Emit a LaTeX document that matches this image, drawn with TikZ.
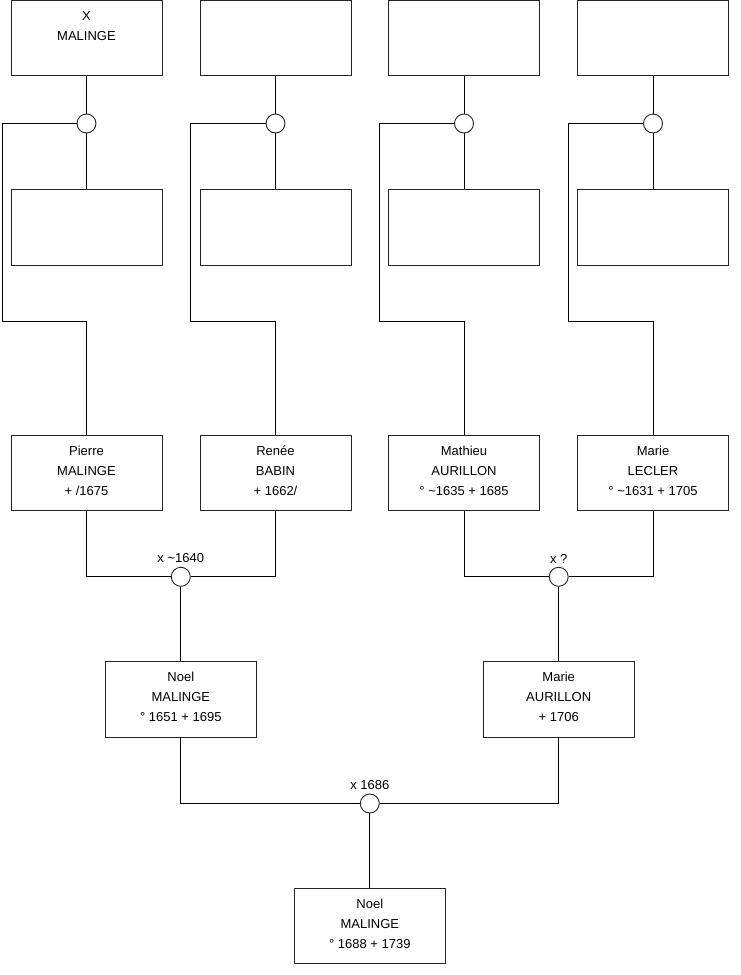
\documentclass[tikz,border=0pt]{standalone}
\usepackage{fontspec}
\setmainfont{Liberation Sans}
\begin{document}
\begin{tikzpicture}[x=1pt,y=-1pt,
  pbox/.style={draw=black!85, line width=0.9pt, minimum width=151pt, minimum height=75.5pt, inner sep=0pt, align=center, font=\fontsize{13}{20}\selectfont, text depth=4pt, execute at begin node={\rule{0pt}{13pt}}, fill=white},
  union/.style={draw=black!85, circle, line width=0.9pt, minimum size=19pt, inner sep=0pt, fill=white},
  lab/.style={font=\fontsize{13}{15}\selectfont, inner sep=0pt},
  link/.style={line width=0.9pt, black}]
\useasboundingbox (0,0) rectangle (740,975);
% top row
\node[pbox] (t1) at (86.5,38) {X\\MALINGE\\\strut};
\node[pbox] (t2) at (275.5,38) {};
\node[pbox] (t3) at (464,38) {};
\node[pbox] (t4) at (653,38) {};
% unions top
\node[union] (u1) at (86.5,123.5) {};
\node[union] (u2) at (275.5,123.5) {};
\node[union] (u3) at (464,123.5) {};
\node[union] (u4) at (653,123.5) {};
% second row
\node[pbox] (s1) at (86.5,227.5) {};
\node[pbox] (s2) at (275.5,227.5) {};
\node[pbox] (s3) at (464,227.5) {};
\node[pbox] (s4) at (653,227.5) {};
% third row
\node[pbox] (p1) at (86.5,472.75) {Pierre\\MALINGE\\+ /1675};
\node[pbox] (p2) at (275.5,472.75) {Renée\\BABIN\\+ 1662/};
\node[pbox] (p3) at (464,472.75) {Mathieu\\AURILLON\\° \textasciitilde1635 + 1685};
\node[pbox] (p4) at (653,472.75) {Marie\\LECLER\\° \textasciitilde1631 + 1705};
% marriages
\node[union] (m1) at (180.8,576.8) {};
\node[union] (m2) at (558.7,576.8) {};
\node[lab] (l1) at (180.8,558.5) {x \textasciitilde1640};
\node[lab] (l2) at (558.7,558.5) {x ?};
% children
\node[pbox] (n1) at (180.8,699.2) {Noel\\MALINGE\\° 1651 + 1695};
\node[pbox] (n2) at (558.7,699.2) {Marie\\AURILLON\\+ 1706};
\node[union] (m3) at (369.8,803.5) {};
\node[lab] (l3) at (369.8,785.5) {x 1686};
\node[pbox] (f) at (369.8,926) {Noel\\MALINGE\\° 1688 + 1739};
% corner coordinates
\coordinate (a1) at (2,123.5);   \coordinate (b1) at (2,321);   \coordinate (c1) at (86.5,321);
\coordinate (a2) at (190.5,123.5); \coordinate (b2) at (190.5,321); \coordinate (c2) at (275.5,321);
\coordinate (a3) at (379,123.5); \coordinate (b3) at (379,321); \coordinate (c3) at (464,321);
\coordinate (a4) at (568.5,123.5); \coordinate (b4) at (568.5,321); \coordinate (c4) at (653,321);
% top connectors
\foreach \i in {1,2,3,4} {
  \draw[link] (t\i.south) -- (u\i.north);
  \draw[link] (u\i.south) -- (s\i.north);
  \draw[link] (u\i.west) -- (a\i) -- (b\i) -- (c\i) -- (p\i.north);
}
% marriages
\draw[link] (p1.south) |- (m1.west);
\draw[link] (p2.south) |- (m1.east);
\draw[link] (m1.south) -- (n1.north);
\draw[link] (p3.south) |- (m2.west);
\draw[link] (p4.south) |- (m2.east);
\draw[link] (m2.south) -- (n2.north);
\draw[link] (n1.south) |- (m3.west);
\draw[link] (n2.south) |- (m3.east);
\draw[link] (m3.south) -- (f.north);
\end{tikzpicture}
\end{document}
